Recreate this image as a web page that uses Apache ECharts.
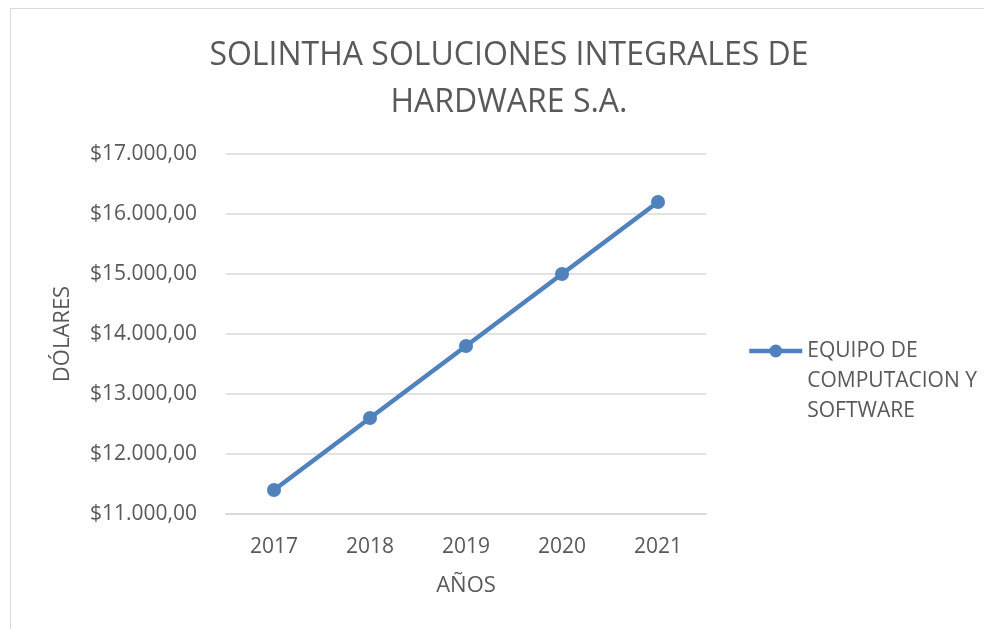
<!DOCTYPE html>
<html>
<head>
<meta charset="utf-8">
<script src="https://cdn.jsdelivr.net/npm/echarts@6/dist/echarts.min.js"></script>
<style>
  html, body { margin: 0; padding: 0; background: #fff; }
  #frame { position: absolute; left: 10px; top: 8px; width: 1000px; height: 640px; border: 1px solid #d9d9d9; }
  #chart { position: absolute; left: 0; top: 0; width: 984px; height: 629px; }
</style>
</head>
<body>
<div id="frame"></div>
<div id="chart"></div>
<script>
// datos del gráfico
const years = ['2017', '2018', '2019', '2020', '2021'];
const equipo = [11400, 12600, 13800, 15000, 16200];
const seriesName = 'EQUIPO DE COMPUTACION Y SOFTWARE';

const FONT = '"Open Sans", "Noto Sans", sans-serif';
const GREY = '#595959';
const BLUE = '#4f81bd';

// formato $17.000,00
function money(v) {
  const s = Math.round(v).toString().replace(/\B(?=(\d{3})+(?!\d))/g, '.');
  return '$' + s + ',00';
}

const chart = echarts.init(document.getElementById('chart'));

chart.setOption({
  animation: false,
  title: {
    text: 'SOLINTHA SOLUCIONES INTEGRALES DE\nHARDWARE S.A.',
    left: 504,
    textAlign: 'center',
    top: 27,
    textStyle: {
      fontFamily: FONT,
      fontSize: 32,
      fontWeight: 'normal',
      color: GREY,
      lineHeight: 47
    }
  },
  grid: {
    left: 226,
    top: 154,
    width: 480,
    height: 360,
    containLabel: false
  },
  legend: {
    left: 747,
    top: 276,
    padding: 0,
    orient: 'vertical',
    itemWidth: 53,
    itemHeight: 16,
    // las dos líneas vacías dejan la primera línea a la altura del icono
    formatter: () => '\n\nEQUIPO DE\nCOMPUTACION Y\nSOFTWARE',
    lineStyle: { width: 4.5 },
    textStyle: {
      fontFamily: FONT,
      fontSize: 21,
      color: GREY,
      lineHeight: 30
    }
  },
  xAxis: {
    type: 'category',
    data: years,
    name: 'AÑOS',
    nameLocation: 'middle',
    nameGap: 61,
    nameTextStyle: { fontFamily: FONT, fontSize: 22, color: GREY },
    axisLine: { lineStyle: { color: '#d9d9d9', width: 2 } },
    axisTick: { show: false },
    axisLabel: { fontFamily: FONT, fontSize: 21, color: GREY, margin: 23 }
  },
  yAxis: {
    type: 'value',
    min: 11000,
    max: 17000,
    interval: 1000,
    name: 'DÓLARES',
    nameLocation: 'middle',
    nameGap: 152,
    nameTextStyle: { fontFamily: FONT, fontSize: 22, color: GREY },
    axisLine: { show: false },
    axisTick: { show: false },
    axisLabel: { fontFamily: FONT, fontSize: 21, color: GREY, margin: 29, formatter: money },
    splitLine: { lineStyle: { color: '#d9d9d9', width: 1.5 } }
  },
  series: [{
    name: seriesName,
    type: 'line',
    data: equipo,
    symbol: 'circle',
    symbolSize: 14,
    lineStyle: { color: BLUE, width: 4.5 },
    itemStyle: { color: BLUE }
  }]
});
</script>
</body>
</html>
